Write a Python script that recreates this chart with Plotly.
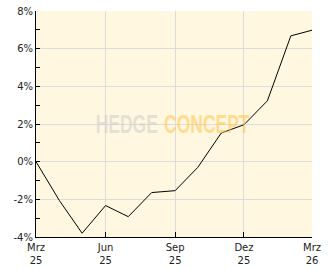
import plotly.graph_objects as go

dates = ["2025-03-01", "2025-04-01", "2025-05-01", "2025-06-01", "2025-07-01",
         "2025-08-01", "2025-09-01", "2025-10-01", "2025-11-01", "2025-12-01",
         "2026-01-01", "2026-02-01", "2026-03-01"]
values = [0.0, -2.07, -3.8, -2.33, -2.92, -1.64, -1.54, -0.30, 1.52, 1.96, 3.23, 6.68, 6.98]

x_tick_vals = ["2025-03-01", "2025-06-01", "2025-09-01", "2025-12-01", "2026-03-01"]
x_tick_text = ["Mrz<br>25", "Jun<br>25", "Sep<br>25", "Dez<br>25", "Mrz<br>26"]
y_tick_vals = [-4, -2, 0, 2, 4, 6, 8]
y_tick_text = ["-4%", "-2%", "0%", "2%", "4%", "6%", "8%"]

fig = go.Figure()
fig.add_trace(go.Scatter(x=dates, y=values, mode="lines",
                         line=dict(color="black", width=1), hoverinfo="skip"))

font = dict(family="DejaVu Sans", size=10, color="#222222")

fig.update_layout(
    width=332, height=269,
    margin=dict(l=36, r=20, t=11, b=32),
    paper_bgcolor="white",
    plot_bgcolor="#FFF7E0",
    showlegend=False,
    font=font,
    xaxis=dict(
        type="date",
        range=["2025-03-01", "2026-03-01"],
        tickvals=x_tick_vals, ticktext=x_tick_text,
        ticks="inside", ticklen=5, tickcolor="black",
        ticklabelstandoff=1,
        showline=True, linecolor="black", linewidth=1,
        showgrid=True, gridcolor="#DCDCDC", gridwidth=1,
        zeroline=False, tickfont=font, automargin=False,
    ),
    yaxis=dict(
        range=[-4, 8],
        tickvals=y_tick_vals, ticktext=y_tick_text,
        ticks="inside", ticklen=4, tickcolor="black",
        minor=dict(ticks="inside", ticklen=4, dtick=1, tickcolor="black", showgrid=False),
        showline=True, linecolor="black", linewidth=1,
        showgrid=True, gridcolor="#DCDCDC", gridwidth=1,
        zeroline=False, tickfont=font, automargin=False,
    ),
)

wm_font = "Liberation Sans, Arial, sans-serif"
fig.add_annotation(xref="paper", yref="paper", x=(160 - 36) / 276, y=(237 - 124) / 226,
                   xanchor="right", yanchor="middle", showarrow=False,
                   text="<b>HEDGE</b>",
                   font=dict(family=wm_font, size=25, color="rgba(205,205,205,0.55)"))
fig.add_annotation(xref="paper", yref="paper", x=(162 - 36) / 276, y=(237 - 124) / 226,
                   xanchor="left", yanchor="middle", showarrow=False,
                   text="<b>CONCEPT</b>",
                   font=dict(family=wm_font, size=25, color="rgba(255,196,70,0.55)"))

post = """
var anns = document.querySelectorAll('.annotation-text');
anns.forEach(function(t, i){
  t.style.transformBox='fill-box';
  t.style.transformOrigin = (i === 0) ? 'right center' : 'left center';
  t.style.transform='scaleX(0.7)';
});
"""
fig.write_html("out.html", post_script=post)
